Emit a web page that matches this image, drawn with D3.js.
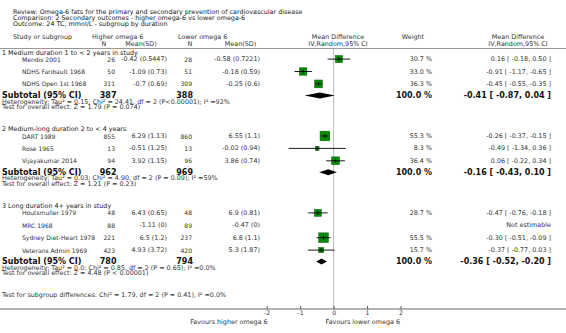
<!DOCTYPE html>
<html>
<head>
<meta charset="utf-8">
<script src="https://cdn.jsdelivr.net/npm/d3@7"></script>
<style>
  body { margin: 0; background: #fff; }
  svg { display: block; font-family: "DejaVu Sans", sans-serif; }
  .t { font-size: 6.4px; fill: #333; }
  .s { font-size: 6.05px; fill: #333; }
  .b { font-size: 8px; font-weight: bold; fill: #111; }
</style>
</head>
<body>
<div id="chart"></div>
<script>
var width = 566,
    height = 333;

// titles
var titleLines = [
    'Review:  Omega-6 fats for the primary and secondary prevention of cardiovascular disease',
    'Comparison:  2 Secondary outcomes - higher omega-6 vs lower omega-6',
    'Outcome:  24 TC, mmol/L - subgroup by duration'
];

// subgroups
var groups = [
    '1 Medium duration 1 to < 2 years in study',
    '2 Medium-long duration 2 to < 4 years',
    '3 Long duration 4+ years in study'
];
var subNHigh = [387, 962, 780];
var subNLow = [388, 969, 794];
var subMd = [-0.41, -0.16, -0.36];
var subLo = [-0.87, -0.43, -0.52];
var subHi = [0.04, 0.10, -0.20];
var heterogeneity = [
    'Heterogeneity: Tau\u00b2 = 0.15; Chi\u00b2 = 24.41, df = 2 (P<0.00001); I\u00b2 =92%',
    'Heterogeneity: Tau\u00b2 = 0.03; Chi\u00b2 = 4.90, df = 2 (P = 0.09); I\u00b2 =59%',
    'Heterogeneity: Tau\u00b2 = 0.0; Chi\u00b2 = 0.85, df = 2 (P = 0.65); I\u00b2 =0.0%'
];
var overallEffect = [
    'Test for overall effect: Z = 1.79 (P = 0.074)',
    'Test for overall effect: Z = 1.21 (P = 0.23)',
    'Test for overall effect: Z = 4.48 (P < 0.00001)'
];
var subgroupDiff = 'Test for subgroup differences: Chi\u00b2 = 1.79, df = 2 (P = 0.41), I\u00b2 =0.0%';

// studies
var studyGroup = [0, 0, 0, 1, 1, 1, 2, 2, 2, 2];
var studyNames = ['Mendis 2001', 'NDHS Faribault 1968', 'NDHS Open 1st 1968',
    'DART 1989', 'Rose 1965', 'Vijayakumar 2014',
    'Houtsmuller 1979', 'MRC 1968', 'Sydney Diet-Heart 1978', 'Veterans Admin 1969'];
var nHigh = [26, 50, 311, 855, 13, 94, 48, 88, 221, 423];
var meanSdHigh = ['-0.42 (0.5447)', '-1.09 (0.73)', '-0.7 (0.69)', '6.29 (1.13)', '-0.51 (1.25)',
    '3.92 (1.15)', '6.43 (0.65)', '-1.11 (0)', '6.5 (1.2)', '4.93 (3.72)'];
var nLow = [28, 51, 309, 860, 13, 96, 48, 89, 237, 420];
var meanSdLow = ['-0.58 (0.7221)', '-0.18 (0.59)', '-0.25 (0.6)', '6.55 (1.1)', '-0.02 (0.94)',
    '3.86 (0.74)', '6.9 (0.81)', '-0.47 (0)', '6.8 (1.1)', '5.3 (1.87)'];
var weights = [30.7, 33.0, 36.3, 55.3, 8.3, 36.4, 28.7, null, 55.5, 15.7];
var md = [0.16, -0.91, -0.45, -0.26, -0.49, 0.06, -0.47, null, -0.30, -0.37];
var ciLo = [-0.18, -1.17, -0.55, -0.37, -1.34, -0.22, -0.76, null, -0.51, -0.77];
var ciHi = [0.50, -0.65, -0.35, -0.15, 0.36, 0.34, -0.18, null, -0.09, 0.03];

// axis
var axisTicks = [-2, -1, 0, 1, 2];

var fmt = function(v) {
    return (v < 0 ? '-' : '') + Math.abs(v).toFixed(2);
};
var mdText = function(m, lo, hi) {
    return fmt(m) + ' [ ' + fmt(lo) + ', ' + fmt(hi) + ' ]';
};

var x = d3.scaleLinear().domain([-2, 2]).range([266.7, 400.5]);
var boxSize = d3.scaleSqrt().domain([0, 100]).range([0, 13]);

var col = {
    nHigh: 115, msHigh: 167, nLow: 192, msLow: 260,
    weight: 432, md: 551
};

var svg = d3.select('#chart').append('svg')
    .attr('width', width)
    .attr('height', height);

var txt = function(xp, yp, s, cls, anchor) {
    return svg.append('text')
        .attr('class', cls || 't')
        .attr('x', xp)
        .attr('y', yp)
        .attr('dominant-baseline', 'central')
        .attr('text-anchor', anchor || 'start')
        .text(s);
};

titleLines.forEach(function(s, i) {
    txt(13, 12 + i * 6, s).style('fill', '#222');
});

// header
var h1 = 37.3, h2 = 44;
txt(13, h1, 'Study or subgroup');
txt(92, h1, 'Higher omega 6');
txt(104, h2, 'N', 't', 'middle');
txt(141, h2, 'Mean(SD)', 't', 'middle');
txt(178, h1, 'Lower omega 6');
txt(190, h2, 'N', 't', 'middle');
txt(240.5, h2, 'Mean(SD)', 't', 'middle');
txt(338, h1, 'Mean Difference', 't', 'middle');
txt(338, h2, 'IV,Random,95% CI', 't', 'middle');
txt(413, h1, 'Weight', 't', 'middle');
txt(518, h1, 'Mean Difference', 't', 'middle');
txt(518, h2, 'IV,Random,95% CI', 't', 'middle');

svg.append('line')
    .attr('x1', 0).attr('x2', width)
    .attr('y1', 48.5).attr('y2', 48.5)
    .style('stroke', '#999')
    .style('stroke-width', 1.2);

// row layout
var rows = [];
var y = 52.5;
groups.forEach(function(g, gi) {
    rows.push({ type: 'group', g: gi, y: y });
    var first = true;
    studyNames.forEach(function(name, i) {
        if (studyGroup[i] !== gi) return;
        y += first ? 6.6 : 12.4;
        first = false;
        rows.push({ type: 'study', i: i, y: y });
    });
    y += 11.5;
    rows.push({ type: 'subtotal', g: gi, y: y });
    y += 6.1;
    rows.push({ type: 'het', g: gi, y: y });
    y += 5.6;
    rows.push({ type: 'test', g: gi, y: y });
    y += 22.3;
});
var diffY = y - 0.5;

// zero line (behind marks)
svg.append('line')
    .attr('x1', x(0)).attr('x2', x(0))
    .attr('y1', 49).attr('y2', 309)
    .style('stroke', '#bbb')
    .style('stroke-width', 1);

rows.forEach(function(r) {
    if (r.type === 'group') {
        txt(2, r.y, groups[r.g]).style('fill', '#222');
    } else if (r.type === 'study') {
        var i = r.i;
        txt(22, r.y, studyNames[i], 's');
        txt(col.nHigh, r.y, nHigh[i], 's', 'end');
        txt(col.msHigh, r.y, meanSdHigh[i], 't', 'end');
        txt(col.nLow, r.y, nLow[i], 's', 'end');
        txt(col.msLow, r.y, meanSdLow[i], 't', 'end');
        if (md[i] === null) {
            txt(col.md, r.y, 'Not estimable', 't', 'end');
            return;
        }
        txt(col.weight, r.y, weights[i].toFixed(1) + ' %', 't', 'end');
        txt(col.md, r.y, mdText(md[i], ciLo[i], ciHi[i]), 't', 'end');

        var s = boxSize(weights[i]);
        svg.append('rect')
            .attr('x', x(md[i]) - s / 2)
            .attr('y', r.y - s / 2)
            .attr('width', s)
            .attr('height', s)
            .style('fill', '#0a8a0a')
            .style('stroke', '#046004')
            .style('stroke-width', 0.5);
        svg.append('line')
            .attr('x1', x(ciLo[i])).attr('x2', x(ciHi[i]))
            .attr('y1', r.y).attr('y2', r.y)
            .style('stroke', '#000')
            .style('stroke-width', 0.9);
        svg.append('line')
            .attr('x1', x(md[i])).attr('x2', x(md[i]))
            .attr('y1', r.y - 2).attr('y2', r.y + 2)
            .style('stroke', '#000')
            .style('stroke-width', 0.9);
    } else if (r.type === 'subtotal') {
        var g = r.g;
        txt(2, r.y, 'Subtotal (95% CI)', 'b');
        txt(col.nHigh + 1.5, r.y, subNHigh[g], 'b', 'end');
        txt(col.nLow + 1, r.y, subNLow[g], 'b', 'end');
        txt(col.weight, r.y, '100.0 %', 'b', 'end');
        txt(col.md, r.y, mdText(subMd[g], subLo[g], subHi[g]), 'b', 'end');
        var h = 3;
        svg.append('path')
            .attr('d', 'M' + x(subLo[g]) + ',' + r.y +
                'L' + x(subMd[g]) + ',' + (r.y - h) +
                'L' + x(subHi[g]) + ',' + r.y +
                'L' + x(subMd[g]) + ',' + (r.y + h) + 'Z')
            .style('fill', '#000');
    } else if (r.type === 'het') {
        txt(2, r.y, heterogeneity[r.g]);
    } else if (r.type === 'test') {
        txt(2, r.y, overallEffect[r.g]);
    }
});

txt(2, diffY, subgroupDiff);

// axis
svg.append('line')
    .attr('x1', 0).attr('x2', width)
    .attr('y1', 309).attr('y2', 309)
    .style('stroke', '#999')
    .style('stroke-width', 1.3);

var axis = svg.append('g')
    .attr('transform', 'translate(0,309)')
    .call(d3.axisBottom(x)
        .tickValues(axisTicks)
        .tickSizeInner(-3)
        .tickSizeOuter(0)
        .tickPadding(2)
        .tickFormat(function(d) { return String(d); }));
axis.select('.domain').remove();
axis.selectAll('.tick line').style('stroke', '#555');
axis.selectAll('.tick text')
    .style('font-size', '6.2px')
    .style('font-family', '"DejaVu Sans", sans-serif')
    .style('fill', '#333');

txt(x(-2) + 1, 322, 'Favours higher omega 6', 't', 'end');
txt(x(0) - 8, 322, 'Favours lower omega 6', 't', 'start');
</script>
</body>
</html>
